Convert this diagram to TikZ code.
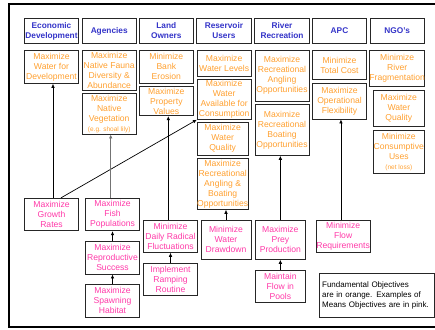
\documentclass[tikz,border=0pt]{standalone}
\usepackage{fontspec}
\setmainfont{Liberation Sans}
\usetikzlibrary{arrows.meta}
\definecolor{hblue}{HTML}{3434C8}
\definecolor{forange}{HTML}{FFA030}
\definecolor{mpink}{HTML}{FF3AA8}
\begin{document}
\begin{tikzpicture}[x=1pt,y=-1pt,
  bx/.style={draw=black!85,line width=0.9pt,inner sep=0pt,align=center,
    font=\fontsize{8.6}{10}\selectfont},
  hd/.style={bx,text=hblue,font=\fontsize{8.3}{10}\selectfont\bfseries,minimum width=54.3pt,minimum height=25.4pt},
  fo/.style={bx,text=forange},
  mo/.style={bx,text=mpink},
  arr/.style={draw=black,line width=0.7pt,-{Latex[length=4pt,width=3.6pt]}}
]
\useasboundingbox (0,0) rectangle (435,329);
% outer frame
\draw[line width=2pt] (436,3.7) -- (9.3,3.7) -- (9.3,327) -- (436,327);

% headers
\node[hd] (hED) at (51.5,31) {Economic\\Development};
\node[hd] (hAg) at (109.2,31) {Agencies};
\node[hd] (hLO) at (166.3,31) {Land\\Owners};
\node[hd] (hRU) at (223.9,31) {Reservoir\\Users};
\node[hd] (hRR) at (282,31) {River\\Recreation};
\node[hd] (hAPC) at (339.5,31) {APC};
\node[hd] (hNGO) at (397.2,31) {NGO's};

% fundamental objectives
\node[fo,minimum width=54.4pt,minimum height=33pt] (f1) at (51.5,66.8) {Maximize\\Water for\\Development};
\node[fo,minimum width=54.3pt,minimum height=40pt] (f2) at (109.2,70.3) {Maximize\\Native Fauna\\Diversity \&\\Abundance};
\node[fo,minimum width=54.3pt,minimum height=40.3pt] (f3) at (109.2,113.85) {Maximize\\Native\\Vegetation\\{\fontsize{6.5}{7}\selectfont(e.g. shoal lily)}};
\node[fo,minimum width=54pt,minimum height=32.7pt] (f4) at (166.3,66.65) {Minimize\\Bank\\Erosion};
\node[fo,minimum width=54pt,minimum height=29pt] (f5) at (166.3,101.2) {Maximize\\Property\\Values};
\node[fo,minimum width=53.7pt,minimum height=25.3pt] (f6) at (224.15,63.35) {Maximize\\Water Levels};
\node[fo,minimum width=53.7pt,minimum height=40pt] (f7) at (224.15,99.3) {Maximize\\Water\\Available for\\Consumption};
\node[fo,minimum width=50.7pt,minimum height=32.7pt] (f8) at (222.65,138.65) {Maximize\\Water\\Quality};
\node[fo,minimum width=50.7pt,minimum height=51pt] (f9) at (222.65,183.8) {Maximize\\Recreational\\Angling \&\\Boating\\Opportunities};
\node[fo,minimum width=54pt,minimum height=50.7pt] (f10) at (282,75.65) {Maximize\\Recreational\\Angling\\Opportunities};
\node[fo,minimum width=54pt,minimum height=51pt] (f11) at (282,129.8) {Maximize\\Recreational\\Boating\\Opportunities};
\node[fo,minimum width=54.4pt,minimum height=29.4pt] (f12) at (339.5,65) {Minimize\\Total Cost};
\node[fo,minimum width=54.4pt,minimum height=36pt] (f13) at (339.5,101) {Maximize\\Operational\\Flexibility};
\node[fo,minimum width=54.3pt,minimum height=36.4pt] (f14) at (397.2,68.5) {Minimize\\River\\Fragmentation};
\node[fo,minimum width=51pt,minimum height=36.7pt] (f15) at (398.8,108.35) {Maximize\\Water\\Quality};
\node[fo,minimum width=51pt,minimum height=43.3pt] (f16) at (398.8,151.65) {Minimize\\Consumptive\\Uses\\{\fontsize{6.5}{7}\selectfont(net loss)}};

% means objectives
\node[mo,minimum width=54.4pt,minimum height=32.4pt] (m1) at (51.5,214.5) {Maximize\\Growth\\Rates};
\node[mo,minimum width=53.6pt,minimum height=32.4pt] (m2) at (112.5,214.5) {Maximize\\Fish\\Populations};
\node[mo,minimum width=53.6pt,minimum height=32.3pt] (m3) at (112.5,257.85) {Maximize\\Reproductive\\Success};
\node[mo,minimum width=53.6pt,minimum height=32.3pt] (m4) at (112.5,300.85) {Maximize\\Spawning\\Habitat};
\node[mo,minimum width=54.4pt,minimum height=32pt] (m5) at (170.5,236.3) {Minimize\\Daily Radical\\Fluctuations};
\node[mo,minimum width=54.4pt,minimum height=32pt] (m6) at (170.5,279.3) {Implement\\Ramping\\Routine};
\node[mo,minimum width=50pt,minimum height=39.3pt] (m7) at (226,239.65) {Minimize\\Water\\Drawdown};
\node[mo,minimum width=50.7pt,minimum height=39.3pt] (m8) at (280.35,239.65) {Maximize\\Prey\\Production};
\node[mo,minimum width=50.7pt,minimum height=32.4pt] (m9) at (280.35,286.5) {Maintain\\Flow in\\Pools};
\node[mo,minimum width=54.3pt,minimum height=32.3pt] (m10) at (343.15,236.15) {Minimize\\Flow\\Requirements};

% legend
\node[bx,align=left,minimum width=114.7pt,minimum height=43.3pt,text width=109pt,
  font=\fontsize{8}{10}\selectfont] (leg) at (376.65,295.35)
  {Fundamental Objectives\\are in orange. Examples of\\Means Objectives are in pink.};

% connectors
\draw[arr] ([xshift=1.5pt]m1.north) -- ([xshift=1.5pt]m1.north |- f1.south);
\draw[arr] ([xshift=9.5pt]m1.north) -- (f7.south west);
\draw[arr,draw=black!55,line width=1.4pt] ([xshift=-1.8pt]m2.north) -- ([xshift=-1.8pt]m2.north |- f3.south);
\draw[arr] (m3.north) -- (m2.south);
\draw[arr] (m4.north) -- (m3.south);
\draw[arr] ([xshift=-2.2pt]m5.north) -- ([xshift=-2.2pt]m5.north |- f5.south);
\draw[arr] (m6.north) -- (m5.south);
\draw[arr] (m7.north) -- (m7.north |- f9.south);
\draw[arr] (m8.north) -- (m8.north |- f11.south);
\draw[arr] (m9.north) -- (m8.south);
\draw[arr] ([xshift=-2.2pt]m10.north) -- ([xshift=-2.2pt]m10.north |- f13.south);
\end{tikzpicture}
\end{document}
